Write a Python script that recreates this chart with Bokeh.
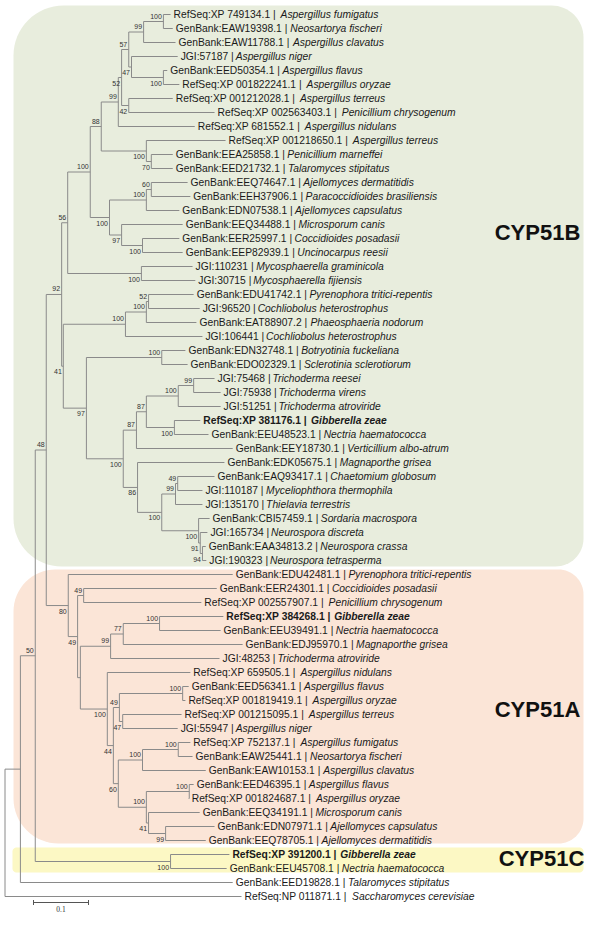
import math
from bokeh.plotting import figure
from bokeh.models import Range1d
from bokeh.embed import file_html
from bokeh.resources import INLINE
from bokeh.core.properties import value

# ---------------- data ----------------
leaf_acc = [
    "RefSeq:XP 749134.1", "GenBank:EAW19398.1", "GenBank:EAW11788.1", "JGI:57187",
    "GenBank:EED50354.1", "RefSeq:XP 001822241.1", "RefSeq:XP 001212028.1", "RefSeq:XP 002563403.1",
    "RefSeq:XP 681552.1", "RefSeq:XP 001218650.1", "GenBank:EEA25858.1", "GenBank:EED21732.1",
    "GenBank:EEQ74647.1", "GenBank:EEH37906.1", "GenBank:EDN07538.1", "GenBank:EEQ34488.1",
    "GenBank:EER25997.1", "GenBank:EEP82939.1", "JGI:110231", "JGI:30715",
    "GenBank:EDU41742.1", "JGI:96520", "GenBank:EAT88907.2", "JGI:106441",
    "GenBank:EDN32748.1", "GenBank:EDO02329.1", "JGI:75468", "JGI:75938",
    "JGI:51251", "RefSeq:XP 381176.1", "GenBank:EEU48523.1", "GenBank:EEY18730.1",
    "GenBank:EDK05675.1", "GenBank:EAQ93417.1", "JGI:110187", "JGI:135170",
    "GenBank:CBI57459.1", "JGI:165734", "GenBank:EAA34813.2", "JGI:190323",
    "GenBank:EDU42481.1", "GenBank:EER24301.1", "RefSeq:XP 002557907.1", "RefSeq:XP 384268.1",
    "GenBank:EEU39491.1", "GenBank:EDJ95970.1", "JGI:48253", "RefSeq:XP 659505.1",
    "GenBank:EED56341.1", "RefSeq:XP 001819419.1", "RefSeq:XP 001215095.1", "JGI:55947",
    "RefSeq:XP 752137.1", "GenBank:EAW25441.1", "GenBank:EAW10153.1", "GenBank:EED46395.1",
    "RefSeq:XP 001824687.1", "GenBank:EEQ34191.1", "GenBank:EDN07971.1", "GenBank:EEQ78705.1",
    "RefSeq:XP 391200.1", "GenBank:EEU45708.1", "GenBank:EED19828.1", "RefSeq:NP 011871.1",
]
leaf_species = [
    "Aspergillus fumigatus", "Neosartorya fischeri", "Aspergillus clavatus", "Aspergillus niger",
    "Aspergillus flavus", "Aspergillus oryzae", "Aspergillus terreus", "Penicillium chrysogenum",
    "Aspergillus nidulans", "Aspergillus terreus", "Penicillium marneffei", "Talaromyces stipitatus",
    "Ajellomyces dermatitidis", "Paracoccidioides brasiliensis", "Ajellomyces capsulatus", "Microsporum canis",
    "Coccidioides posadasii", "Uncinocarpus reesii", "Mycosphaerella graminicola", "Mycosphaerella fijiensis",
    "Pyrenophora tritici-repentis", "Cochliobolus heterostrophus", "Phaeosphaeria nodorum", "Cochliobolus heterostrophus",
    "Botryotinia fuckeliana", "Sclerotinia sclerotiorum", "Trichoderma reesei", "Trichoderma virens",
    "Trichoderma atroviride", "Gibberella zeae", "Nectria haematococca", "Verticillium albo-atrum",
    "Magnaporthe grisea", "Chaetomium globosum", "Myceliophthora thermophila", "Thielavia terrestris",
    "Sordaria macrospora", "Neurospora discreta", "Neurospora crassa", "Neurospora tetrasperma",
    "Pyrenophora tritici-repentis", "Coccidioides posadasii", "Penicillium chrysogenum", "Gibberella zeae",
    "Nectria haematococca", "Magnaporthe grisea", "Trichoderma atroviride", "Aspergillus nidulans",
    "Aspergillus flavus", "Aspergillus oryzae", "Aspergillus terreus", "Aspergillus niger",
    "Aspergillus fumigatus", "Neosartorya fischeri", "Aspergillus clavatus", "Aspergillus flavus",
    "Aspergillus oryzae", "Microsporum canis", "Ajellomyces capsulatus", "Ajellomyces dermatitidis",
    "Gibberella zeae", "Nectria haematococca", "Talaromyces stipitatus", "Saccharomyces cerevisiae",
]
# distance of each tip from the root (substitutions/site)
leaf_depth = [
    0.301, 0.305, 0.310, 0.314, 0.295, 0.317, 0.305, 0.381,
    0.345, 0.401, 0.305, 0.305, 0.332, 0.337, 0.317, 0.323,
    0.317, 0.323, 0.341, 0.346, 0.343, 0.354, 0.348, 0.359,
    0.328, 0.332, 0.381, 0.392, 0.392, 0.355, 0.370, 0.414,
    0.399, 0.381, 0.359, 0.359, 0.372, 0.368, 0.365, 0.366,
    0.414, 0.385, 0.357, 0.397, 0.392, 0.432, 0.390, 0.337,
    0.334, 0.328, 0.321, 0.314, 0.337, 0.341, 0.365, 0.343,
    0.334, 0.354, 0.381, 0.365, 0.408, 0.403, 0.414, 0.430,
]
bold_leaves = [30, 44, 61]

# internal nodes (children are leaf numbers 1..64 or node names)
node_name = ["a", "b", "c", "d", "e", "f", "g", "h", "i", "j", "k",
             "p", "n", "q", "o", "m", "l", "s", "r",
             "t", "u", "v", "w", "x1", "y1", "z1", "aa", "bb", "cc", "dd",
             "ee", "ff", "gg", "hh", "ii", "jj", "kk", "ll", "B",
             "mm", "nn", "oo", "pp", "qq", "rr", "ss", "tt", "uu", "vv",
             "ww", "xx", "yy", "zz", "ac", "ad", "af", "ae", "A",
             "AB", "C", "ABC", "ing", "root"]
node_child1 = ["1", "a", "5", "4", "b", "7", "e", "g", "11", "10", "h",
               "13", "p", "17", "16", "n", "k", "19", "l",
               "21", "t", "u", "25", "27", "x1", "30", "y1", "aa", "34", "cc",
               "39", "38", "37", "dd", "33", "bb", "w", "v", "r",
               "42", "44", "nn", "oo", "49", "51", "qq", "53", "tt", "56",
               "59", "58", "vv", "uu", "ss", "48", "pp", "mm", "41",
               "B", "61", "AB", "ABC", "ing"]
node_child2 = ["2", "3", "6", "c", "d", "8", "f", "9", "12", "i", "j",
               "14", "15", "18", "q", "o", "m", "20", "s",
               "22", "23", "24", "26", "28", "29", "31", "z1", "32", "35", "36",
               "40", "ee", "ff", "gg", "hh", "ii", "jj", "kk", "ll",
               "43", "45", "46", "47", "50", "52", "rr", "54", "55", "57",
               "60", "ww", "xx", "yy", "zz", "ac", "ad", "af", "ae",
               "A", "62", "C", "63", "64"]
node_depth = [0.288, 0.252, 0.288, 0.230, 0.225, 0.225, 0.212, 0.206, 0.266, 0.257, 0.175,
              0.266, 0.257, 0.250, 0.212, 0.190, 0.155, 0.248, 0.114,
              0.261, 0.257, 0.219, 0.285, 0.343, 0.315, 0.308, 0.257, 0.239, 0.314, 0.310,
              0.359, 0.355, 0.352, 0.285, 0.241, 0.215, 0.148, 0.106, 0.103,
              0.143, 0.281, 0.215, 0.192, 0.323, 0.214, 0.208, 0.315, 0.250, 0.335,
              0.292, 0.261, 0.257, 0.206, 0.197, 0.186, 0.137, 0.132, 0.115,
              0.075, 0.301, 0.055, 0.028, 0.000]
node_support = [100, 99, 100, 47, 57, 42, 52, 99, 70, 100, 88,
                60, 100, 100, 97, 100, 100, 100, 56,
                52, 100, 100, 100, 99, 100, 100, 87, 87, 49, 99,
                94, 91, 100, 100, 86, 100, 97, 41, 92,
                49, 100, 77, 99, 100, 47, 49, 100, 100, 100,
                99, 41, 100, 60, 44, 100, None, 49, 80,
                48, 100, 50, None, None]
# +1 label above the node, -1 below
node_label_side = [1, 1, -1, -1, 1, -1, -1, 1, -1, -1, 1,
                   1, 1, -1, -1, -1, 1, -1, 1,
                   1, 1, 1, 1, 1, 1, -1, 1, 1, 1, 1,
                   -1, -1, -1, -1, -1, -1, -1, -1, 1,
                   1, 1, 1, 1, 1, -1, 1, 1, 1, 1,
                   -1, -1, 1, -1, -1, -1, 1, -1, -1,
                   1, -1, 1, 1, 1]

scale_bar_length = 0.1
group_names = ["CYP51B", "CYP51A", "CYP51C"]

# ---------------- geometry helpers (reference pixels -> data) ----------------
W, H = 584, 914
UNIT_PX = 550.0           # px per branch-length unit
ROW_PX = 14.0             # px per leaf row
ROW0 = 14.0               # y of first leaf
X0 = 4.5                  # x of root


def rx(px):
    return (px - X0) / UNIT_PX


def ry(py):
    return (py - ROW0) / ROW_PX


def dxp(px):
    return px / UNIT_PX


def dyp(py):
    return py / ROW_PX


p = figure(width=W, height=H, x_range=Range1d(rx(0), rx(W)), y_range=Range1d(ry(H), ry(0)),
           output_backend="svg", toolbar_location=None, min_border=0,
           x_axis_location=None, y_axis_location=None)
p.grid.visible = False
p.outline_line_color = None
p.background_fill_color = "white"
p.border_fill_color = "white"


def rounded_box(l, t, r, b, rad):
    tl, tr, br, bl = rad
    pts = []

    def arc(cx, cy, rr, a0, a1):
        for k in range(17):
            a = a0 + (a1 - a0) * k / 16
            pts.append((cx + rr * math.cos(a), cy + rr * math.sin(a)))
    arc(l + tl, t + tl, tl, math.pi, 1.5 * math.pi)
    arc(r - tr, t + tr, tr, 1.5 * math.pi, 2 * math.pi)
    arc(r - br, b - br, br, 0, 0.5 * math.pi)
    arc(l + bl, b - bl, bl, 0.5 * math.pi, math.pi)
    return [rx(a) for a, _ in pts], [ry(c) for _, c in pts]


# background group boxes
for (l, t, r, b, rad, col) in [
    (13, 5, 583, 566, (50, 32, 28, 48), "#e8eddd"),
    (13, 569, 583, 843, (42, 25, 25, 45), "#fbe5d7"),
    (12, 847, 583, 872, (4, 4, 4, 4), "#fcf8c4"),
]:
    xs, ys = rounded_box(l, t, r, b, rad)
    p.patch(xs, ys, fill_color=col, line_color=None)

# ---------------- tree layout ----------------
depth = {}
ypos = {}
for i, d in enumerate(leaf_depth):
    depth[str(i + 1)] = d
    ypos[str(i + 1)] = float(i)
for n, c1, c2, d in zip(node_name, node_child1, node_child2, node_depth):
    depth[n] = d
    ypos[n] = (ypos[c1] + ypos[c2]) / 2.0

x0s, y0s, x1s, y1s = [], [], [], []
for n, c1, c2 in zip(node_name, node_child1, node_child2):
    xn = depth[n]
    x0s.append(xn); y0s.append(ypos[c1]); x1s.append(xn); y1s.append(ypos[c2])
    for c in (c1, c2):
        x0s.append(xn); y0s.append(ypos[c]); x1s.append(depth[c]); y1s.append(ypos[c])
p.segment(x0=x0s, y0=y0s, x1=x1s, y1=y1s, line_color="#8a8a8a", line_width=1)

# support values
bx, by, bt = [], [], []
for n, s, side in zip(node_name, node_support, node_label_side):
    if s is None:
        continue
    bx.append(depth[n] - dxp(1.5))
    by.append(ypos[n] - side * dyp(5.5))
    bt.append(str(s))
p.text(x=bx, y=by, text=bt, text_font=value("Liberation Sans"), text_font_size="7px",
       text_align="right", text_baseline="middle", text_color="#333333")

# ---------------- leaf labels ----------------
REG = {' ': 278, '|': 260, ':': 278, '.': 278, '-': 333}
for ch in "0123456789":
    REG[ch] = 556
REG.update(dict(A=667, B=667, C=722, D=722, E=667, F=611, G=778, H=722, I=278, J=500, K=667,
                L=556, M=833, N=722, O=778, P=667, Q=778, R=722, S=667, T=611, U=722, V=667,
                W=944, X=667, Y=667, Z=611))
BLD = dict(REG)
BLD.update({':': 333, '|': 280})
BLD.update(dict(A=722, B=722, K=722, J=556))


def text_w(s, bold=False):
    tab = BLD if bold else REG
    return sum(tab.get(ch, 556) for ch in s) / 1000.0


FS = 10.3
gap = dxp(3.0)
acc_src = dict(x=[], y=[], t=[])
accb_src = dict(x=[], y=[], t=[])
sp_src = dict(x=[], y=[], t=[])
spb_src = dict(x=[], y=[], t=[])
for i, (a, s) in enumerate(zip(leaf_acc, leaf_species)):
    bold = (i + 1) in bold_leaves
    xa = leaf_depth[i] + gap
    pre = a + " | "
    w_units = dxp(text_w(pre, bold) * FS - 1.0)
    ta = accb_src if bold else acc_src
    ts = spb_src if bold else sp_src
    ta["x"].append(xa); ta["y"].append(float(i)); ta["t"].append(a + " |")
    ts["x"].append(xa + w_units); ts["y"].append(float(i)); ts["t"].append(s)

for src, style in [(acc_src, "normal"), (accb_src, "bold"), (sp_src, "italic"), (spb_src, "bold italic")]:
    p.text(x=src["x"], y=src["y"], text=src["t"], text_font=value("Liberation Sans"),
           text_font_size=f"{FS}px", text_font_style=style, text_align="left",
           text_baseline="middle", text_color="#1a1a1a")

# group titles
p.text(x=[rx(537), rx(537), rx(541)], y=[ry(232), ry(709), ry(858)], text=group_names,
       text_font=value("Liberation Sans"), text_font_size="22px", text_font_style="bold",
       text_align="center", text_baseline="middle", text_color="#111111")

# scale bar
sb_x0 = rx(33)
sb_y = ry(902)
p.segment(x0=[sb_x0], y0=[sb_y], x1=[sb_x0 + scale_bar_length], y1=[sb_y], line_color="#555555", line_width=1)
p.segment(x0=[sb_x0, sb_x0 + scale_bar_length], y0=[sb_y - dyp(2.5)] * 2,
          x1=[sb_x0, sb_x0 + scale_bar_length], y1=[sb_y + dyp(2.5)] * 2, line_color="#555555", line_width=1)
p.text(x=[sb_x0 + scale_bar_length / 2], y=[ry(908)], text=[str(scale_bar_length)],
       text_font=value("Liberation Serif"), text_font_size="7.5px", text_align="center",
       text_baseline="middle", text_color="#333333")

open("out.html", "w").write(file_html(p, INLINE))
